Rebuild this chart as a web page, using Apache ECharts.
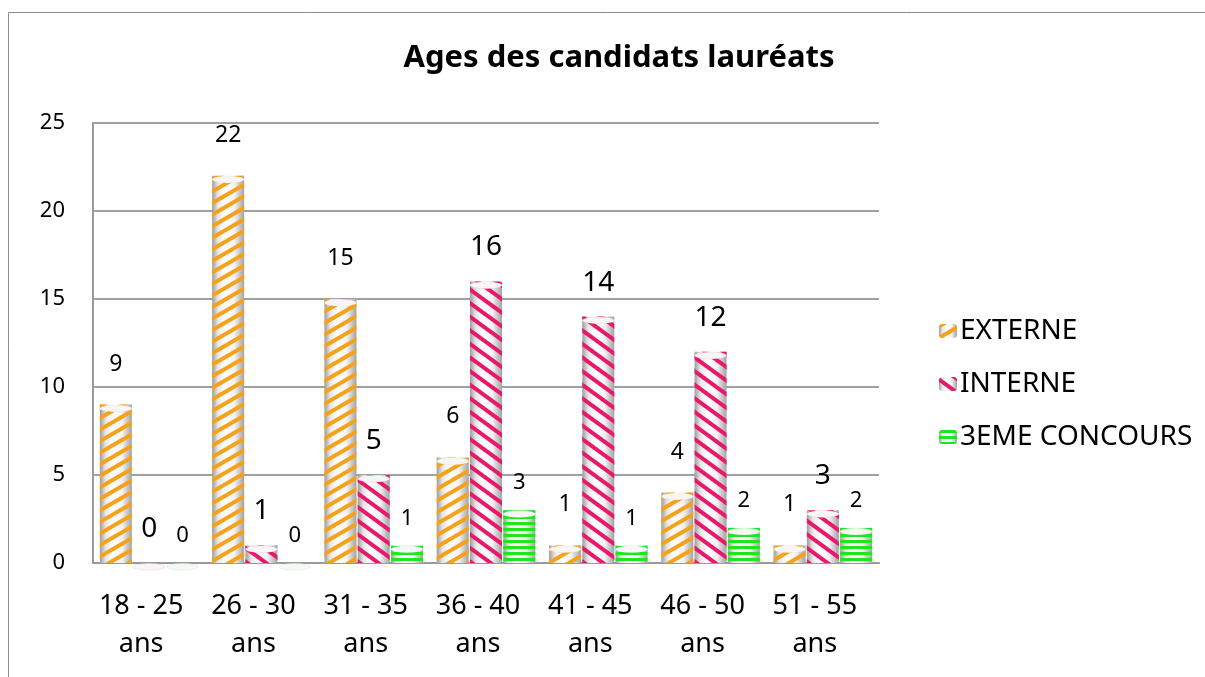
<!DOCTYPE html>
<html>
<head>
<meta charset="utf-8">
<script src="https://cdn.jsdelivr.net/npm/echarts@6/dist/echarts.min.js"></script>
<style>html,body{margin:0;padding:0;background:#fff}#c{width:1205px;height:677px}</style>
</head>
<body>
<div id="c"></div>
<script>
const categories = ['18 - 25\nans', '26 - 30\nans', '31 - 35\nans', '36 - 40\nans', '41 - 45\nans', '46 - 50\nans', '51 - 55\nans'];
const externe = [9, 22, 15, 6, 1, 4, 1];
const interne = [0, 1, 5, 16, 14, 12, 3];
const troisieme = [0, 0, 1, 3, 1, 2, 2];
const yTicks = { min: 0, max: 25, interval: 5 };

const FONT = 'Noto Sans';
const cyl = {
  type: 'linear', x: 0, y: 0, x2: 1, y2: 0,
  colorStops: [
    { offset: 0, color: '#9c9c9c' },
    { offset: 0.18, color: '#e6e6e6' },
    { offset: 0.4, color: '#ffffff' },
    { offset: 0.7, color: '#f2f2f2' },
    { offset: 1, color: '#a2a2a2' }
  ]
};
const BW = 32, GAP = '4%';

function cap(name, data, edge) {
  return {
    name: name, type: 'pictorialBar', data: data, barWidth: BW, barGap: GAP,
    symbol: 'circle', symbolSize: [BW, 7], symbolPosition: 'end', symbolOffset: [0, 0],
    z: 3, silent: true, label: { show: false },
    itemStyle: { color: '#f6f6f6', borderColor: edge, borderWidth: 1.2,
      decal: { symbol: 'rect', color: 'rgba(0,0,0,0)' } }
  };
}

const chart = echarts.init(document.getElementById('c'), null, { renderer: 'canvas' });
chart.setOption({
  animation: false,
  backgroundColor: '#fff',
  aria: { enabled: true, decal: { show: true } },
  textStyle: { fontFamily: FONT, color: '#000' },
  title: {
    text: 'Ages des candidats lauréats',
    left: 614, top: 38, textAlign: 'center',
    textStyle: { fontFamily: FONT, fontWeight: 'bold', fontSize: 31, color: '#000' }
  },
  legend: {
    orient: 'vertical', left: 934, top: 312,
    itemWidth: 18, itemHeight: 14, itemGap: 25,
    textStyle: { fontFamily: FONT, fontSize: 28, color: '#000', padding: [0, 0, 0, -2] },
    data: ['EXTERNE', 'INTERNE', '3EME CONCOURS']
  },
  graphic: [{
    type: 'rect', shape: { x: 8.5, y: 12.5, width: 1300, height: 800 },
    style: { fill: 'none', stroke: '#8c8c8c', lineWidth: 1 }, silent: true
  }],
  grid: { left: 93, right: 326, top: 123, bottom: 114 },
  xAxis: {
    type: 'category', data: categories,
    axisLine: { show: true, lineStyle: { color: '#9a9a9a', width: 2 } },
    axisTick: { show: false },
    axisLabel: { interval: 0, fontFamily: FONT, fontSize: 27, lineHeight: 38, color: '#000', margin: 24, padding: [0, 16, 0, 0] }
  },
  yAxis: {
    type: 'value', min: yTicks.min, max: yTicks.max, interval: yTicks.interval,
    axisLine: { show: true, lineStyle: { color: '#9a9a9a', width: 2 } },
    axisTick: { show: false },
    splitLine: { lineStyle: { color: '#a0a0a0', width: 2 } },
    axisLabel: { fontFamily: FONT, fontSize: 22, color: '#000', margin: 28 }
  },
  series: [
    {
      name: 'EXTERNE', type: 'bar', data: externe, barWidth: BW, barGap: GAP,
      itemStyle: {
        color: cyl,
        decal: { symbol: 'rect', symbolSize: 1, dashArrayX: [1, 0], dashArrayY: [4, 6], rotation: -Math.PI / 6, color: '#f5a21a' }
      },
      label: { show: true, position: 'top', distance: 29, fontFamily: FONT, fontSize: 23, color: '#000' }
    },
    {
      name: 'INTERNE', type: 'bar', data: interne, barWidth: BW, barGap: GAP,
      itemStyle: {
        color: cyl,
        decal: { symbol: 'rect', symbolSize: 1, dashArrayX: [1, 0], dashArrayY: [4, 7], rotation: Math.PI / 5, color: '#e8186a' }
      },
      label: { show: true, position: 'top', distance: 20, fontFamily: FONT, fontSize: 28, color: '#000' }
    },
    {
      name: '3EME CONCOURS', type: 'bar', data: troisieme, barWidth: BW, barGap: GAP,
      itemStyle: {
        color: cyl,
        decal: { symbol: 'rect', symbolSize: 1, dashArrayX: [1, 0], dashArrayY: [3, 3], rotation: 0, color: '#1ee61e' }
      },
      label: { show: true, position: 'top', distance: 16, fontFamily: FONT, fontSize: 22, color: '#000' }
    },
    cap('EXTERNE', externe, '#f5a21a'),
    cap('INTERNE', interne, '#e8186a'),
    cap('3EME CONCOURS', troisieme, '#1ee61e')
  ]
});
</script>
</body>
</html>
